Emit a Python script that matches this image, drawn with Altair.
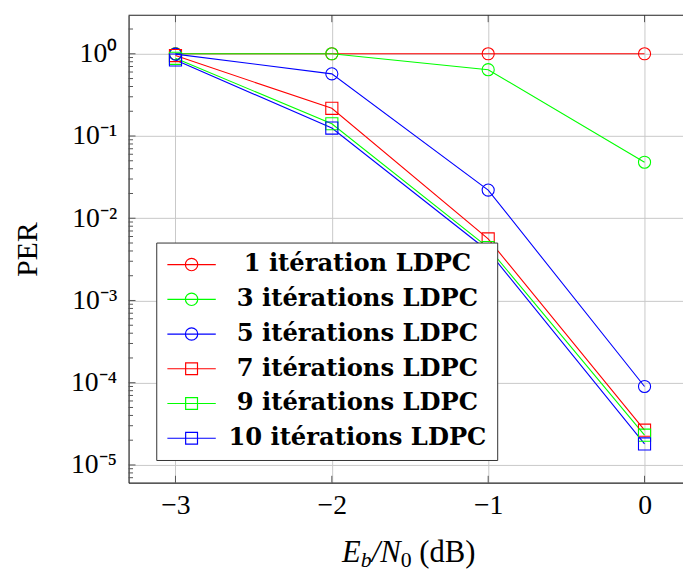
import altair as alt
import pandas as pd

# ---- data ----
ebn0 = [-3, -2, -1, 0]
per_1 = [1.0, 1.0, 1.0, 1.0]
per_3 = [1.0, 1.0, 0.64, 0.048]
per_5 = [0.99, 0.57, 0.022, 9.0e-5]
per_7 = [0.95, 0.217, 0.0056, 2.65e-5]
per_9 = [0.88, 0.141, 0.0044, 2.3e-5]
per_10 = [0.84, 0.125, 0.0040, 1.8e-5]

series_names = [
    "1 itération LDPC",
    "3 itérations LDPC",
    "5 itérations LDPC",
    "7 itérations LDPC",
    "9 itérations LDPC",
    "10 itérations LDPC",
]
series_values = [per_1, per_3, per_5, per_7, per_9, per_10]
series_colors = ["#ff0000", "#00ff00", "#0000ff", "#ff0000", "#00ff00", "#0000ff"]
series_markers = ["circle", "circle", "circle", "square", "square", "square"]

x_ticks = [-3, -2, -1, 0]
y_major = [1.0, 0.1, 0.01, 0.001, 1e-4, 1e-5]
y_minor = [m * 10.0 ** e for e in range(-6, 1) for m in range(2, 10)]

X_DOMAIN = [-3.3, 0.246]
Y_DOMAIN = [6.08e-6, 2.94]
W, H = 561, 473

y_minor = [v for v in y_minor if Y_DOMAIN[0] <= v <= Y_DOMAIN[1]]

rows = []
for i, (name, vals) in enumerate(zip(series_names, series_values)):
    for x, v in zip(ebn0, vals):
        rows.append({"ebn0": x, "per": v, "series": name,
                     "marker": series_markers[i], "order": i})
df = pd.DataFrame(rows)

# legend symbols: line with marker (unit = sqrt(symbolSize)/2 = 11 px)
circle_path = ("M-2.227,0L2.227,0M0.568,0A0.568,0.568,0,1,1,-0.568,0"
               "A0.568,0.568,0,1,1,0.568,0Z")
square_path = ("M-2.227,0L2.227,0M-0.545,-0.545L0.545,-0.545L0.545,0.545"
               "L-0.545,0.545Z")
legend_shapes = [circle_path if m == "circle" else square_path for m in series_markers]

SERIF = "Liberation Serif"

xscale = alt.Scale(domain=X_DOMAIN, nice=False, zero=False)
yscale = alt.Scale(type="log", domain=Y_DOMAIN, nice=False)
cscale = alt.Scale(domain=series_names, range=series_colors)

x_axis = alt.Axis(
    values=x_ticks, grid=True, gridColor="#c8c8c8", gridWidth=1,
    ticks=False, tickSize=0, domain=True, domainColor="#222", domainWidth=1.2,
    labelFont=SERIF, labelFontSize=28, labelColor="black", labelPadding=9,
    labelExpr="datum.value < 0 ? '−' + abs(datum.value) : '' + datum.value",
    title=None,
)
y_axis = alt.Axis(
    values=y_major, grid=True, gridColor="#c8c8c8", gridWidth=1,
    ticks=False, tickSize=0, domain=True, domainColor="#222", domainWidth=1.2,
    labelFont=SERIF, labelFontSize=28, labelColor="black", labelPadding=12,
    labelExpr="['10⁰','10⁻¹','10⁻²','10⁻³','10⁻⁴','10⁻⁵'][round(-log(datum.value)/LN10)]",
    title="PER", titleFont=SERIF, titleFontSize=30, titleFontWeight="normal",
    titleColor="black", titleX=-93, titleY=H / 2, titleAngle=270,
    titleBaseline="alphabetic", titleAlign="center",
)

base = alt.Chart(df)

# legend provider: zero-size marks, only its legend is visible
legend_layer = base.mark_point(
    filled=False, size=0, strokeWidth=1.2, opacity=1
).encode(
    x=alt.X("ebn0:Q", scale=xscale, axis=x_axis),
    y=alt.Y("per:Q", scale=yscale, axis=y_axis),
    color=alt.Color(
        "series:N", scale=cscale,
        legend=alt.Legend(
            title=None, orient="none", legendX=28, legendY=230,
            labelFont="DejaVu Serif", labelFontWeight="bold", labelFontSize=24.5,
            labelColor="black", labelAlign="center", labelOffset=155.5,
            labelLimit=400, symbolSize=484, symbolStrokeWidth=1.2,
            symbolOffset=13.5,
            padding=10, rowPadding=10.15, strokeColor="#333", fillColor="white",
            direction="vertical",
        ),
    ),
    shape=alt.Shape("series:N", scale=alt.Scale(domain=series_names, range=legend_shapes)),
)

lines = base.mark_line(strokeWidth=1.1).encode(
    x=alt.X("ebn0:Q", scale=xscale),
    y=alt.Y("per:Q", scale=yscale),
    color=alt.Color("series:N", scale=cscale, legend=None),
    detail="series:N",
    order="ebn0:Q",
)

circles = base.transform_filter("datum.marker == 'circle'").mark_point(
    filled=False, size=150, strokeWidth=1.1, opacity=1, shape="circle"
).encode(
    x=alt.X("ebn0:Q", scale=xscale),
    y=alt.Y("per:Q", scale=yscale),
    color=alt.Color("series:N", scale=cscale, legend=None),
)
squares = base.transform_filter("datum.marker == 'square'").mark_point(
    filled=False, size=150, strokeWidth=1.1, opacity=1, shape="square"
).encode(
    x=alt.X("ebn0:Q", scale=xscale),
    y=alt.Y("per:Q", scale=yscale),
    color=alt.Color("series:N", scale=cscale, legend=None),
)

# inward tick marks (placed through the scales)
ymaj_df = pd.DataFrame({"v": y_major})
ymin_df = pd.DataFrame({"v": y_minor})
xt_df = pd.DataFrame({"v": x_ticks})
tick_color = "#555"

ymaj_ticks = alt.Chart(ymaj_df).mark_rule(color=tick_color, strokeWidth=1).encode(
    y=alt.Y("v:Q", scale=yscale), x=alt.value(0), x2=alt.value(7))
ymin_ticks = alt.Chart(ymin_df).mark_rule(color=tick_color, strokeWidth=1).encode(
    y=alt.Y("v:Q", scale=yscale), x=alt.value(0), x2=alt.value(4.5))
xb_ticks = alt.Chart(xt_df).mark_rule(color=tick_color, strokeWidth=1).encode(
    x=alt.X("v:Q", scale=xscale), y=alt.value(H), y2=alt.value(H - 7))
xt_ticks = alt.Chart(xt_df).mark_rule(color=tick_color, strokeWidth=1).encode(
    x=alt.X("v:Q", scale=xscale), y=alt.value(0), y2=alt.value(7))

top_border = alt.Chart(alt.Data(values=[{}])).mark_rule(color="#222", strokeWidth=1.2).encode(
    x=alt.value(0), x2=alt.value(W), y=alt.value(0))

# x-axis title E_b/N_0 (dB) assembled from text pieces
def txt(t, x, y, size, style="normal"):
    return alt.Chart(alt.Data(values=[{}])).mark_text(
        text=t, font=SERIF, fontSize=size, fontStyle=style, color="black",
        align="center", baseline="alphabetic",
    ).encode(x=alt.value(x), y=alt.value(y))

title_parts = [
    txt("E", 225.5, 553, 31, "italic"),
    txt("b", 240.5, 558, 22, "italic"),
    txt("/", 250.3, 553, 31, "italic"),
    txt("N", 265, 553, 31, "italic"),
    txt("0", 280.8, 558, 22),
    txt("(dB)", 322.5, 553, 31),
]

chart = alt.layer(
    legend_layer, lines, circles, squares, ymaj_ticks, ymin_ticks, xb_ticks, xt_ticks,
    top_border, *title_parts,
).properties(
    width=W, height=H,
    autosize=alt.AutoSizeParams(type="none"),
    padding={"left": 122, "top": 4, "right": 0, "bottom": 88},
).configure_view(stroke=None)

chart.save("out.html", embed_options={"renderer": "svg", "actions": False})
